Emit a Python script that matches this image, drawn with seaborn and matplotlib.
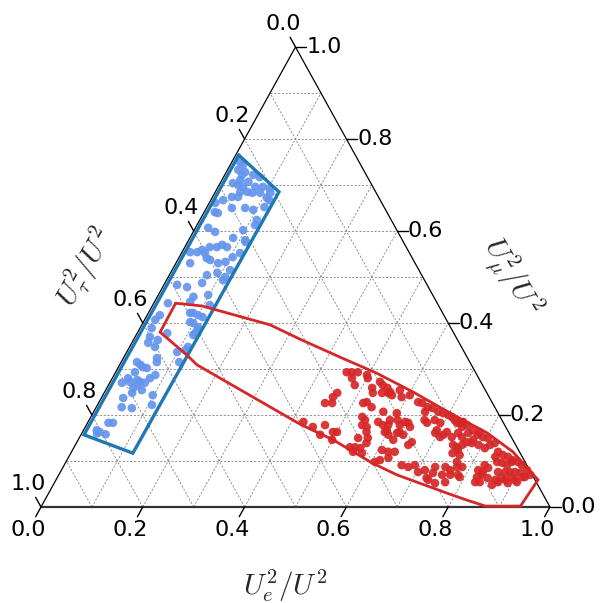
import matplotlib

matplotlib.use("Agg")
import matplotlib.pyplot as plt
import numpy as np
import pandas as pd
import seaborn as sns

# ternary components: e = U_e^2/U^2 (bottom), mu = U_mu^2/U^2 (right), tau = 1 - e - mu (left)
BLUE_E = [
    0.016, 0.025, 0.021, 0.037, 0.034, 0.056, 0.071, 0.036, 0.054, 0.025,
    0.037, 0.049, 0.073, 0.088, 0.103, 0.049, 0.063, 0.074, 0.089, 0.109,
    0.038, 0.050, 0.108, 0.115, 0.024, 0.050, 0.094, 0.021, 0.028, 0.113,
    0.112, 0.114, 0.025, 0.043, 0.085, 0.111, 0.037, 0.049, 0.063, 0.071,
    0.083, 0.030, 0.046, 0.012, 0.096, 0.114, 0.115, 0.105, 0.076,
    0.016, 0.055, 0.028, 0.064, 0.083, 0.096, 0.026, 0.048, 0.073, 0.092,
    0.074, 0.111, 0.112, 0.114, 0.071, 0.070, 0.098, 0.112, 0.028, 0.088,
    0.111, 0.025, 0.021, 0.092, 0.113, 0.023, 0.114, 0.059, 0.048, 0.050,
    0.029, 0.115, 0.066,
    0.032, 0.082, 0.099, 0.115, 0.100, 0.099, 0.114, 0.113, 0.112,
    0.031, 0.041, 0.048, 0.057, 0.038, 0.070, 0.074, 0.081, 0.031, 0.039,
    0.051, 0.059, 0.069, 0.024, 0.052, 0.058, 0.071, 0.055, 0.043, 0.050,
    0.071, 0.107, 0.041, 0.050, 0.026, 0.034, 0.030, 0.048, 0.098,
]
BLUE_MU = [
    0.750, 0.743, 0.733, 0.728, 0.722, 0.722, 0.717, 0.711, 0.707, 0.704,
    0.700, 0.696, 0.696, 0.696, 0.693, 0.685, 0.685, 0.683, 0.683, 0.683,
    0.674, 0.674, 0.672, 0.667, 0.667, 0.650, 0.646, 0.641, 0.639, 0.652,
    0.624, 0.613, 0.607, 0.598, 0.585, 0.580, 0.559, 0.565, 0.565, 0.570,
    0.565, 0.554, 0.552, 0.661, 0.602, 0.576, 0.552, 0.543, 0.650,
    0.554, 0.541, 0.530, 0.537, 0.530, 0.533, 0.483, 0.478, 0.487, 0.509,
    0.504, 0.493, 0.500, 0.515, 0.457, 0.446, 0.461, 0.439, 0.443, 0.422,
    0.413, 0.417, 0.407, 0.402, 0.391, 0.389, 0.378, 0.378, 0.363, 0.348,
    0.370, 0.348, 0.324,
    0.357, 0.422, 0.400, 0.385, 0.417, 0.337, 0.315, 0.341, 0.374,
    0.315, 0.309, 0.304, 0.302, 0.293, 0.315, 0.280, 0.287, 0.280, 0.272,
    0.276, 0.272, 0.270, 0.270, 0.259, 0.265, 0.254, 0.248, 0.237, 0.217,
    0.215, 0.222, 0.183, 0.183, 0.167, 0.163, 0.160, 0.158, 0.243,
]

RED_E = [
    0.454, 0.464, 0.476, 0.497, 0.471, 0.502, 0.530, 0.539, 0.551, 0.484,
    0.458, 0.454, 0.445, 0.459, 0.520, 0.526, 0.521, 0.528, 0.546, 0.558,
    0.541, 0.569, 0.423, 0.447, 0.469, 0.492, 0.500, 0.470, 0.499, 0.533,
    0.542, 0.542, 0.553, 0.558, 0.567, 0.570, 0.583, 0.594, 0.604, 0.548,
    0.542, 0.552, 0.563, 0.572, 0.553, 0.570, 0.608, 0.629, 0.615, 0.607,
    0.561, 0.568, 0.578, 0.589, 0.603, 0.627, 0.636, 0.651, 0.662, 0.677,
    0.688, 0.700, 0.709, 0.591, 0.593, 0.597, 0.606, 0.616, 0.623, 0.630,
    0.638, 0.619, 0.623, 0.633, 0.619, 0.596, 0.658, 0.654, 0.651, 0.667,
    0.659, 0.679, 0.693, 0.694, 0.694, 0.708, 0.712, 0.716, 0.731, 0.718,
    0.732, 0.737, 0.742, 0.752, 0.757, 0.760, 0.750, 0.766, 0.635, 0.622,
    0.663, 0.678, 0.689, 0.703, 0.714, 0.731, 0.733, 0.751, 0.764, 0.774,
    0.784, 0.753, 0.769, 0.726, 0.790, 0.731, 0.748, 0.767,
    0.726, 0.740, 0.748, 0.739, 0.751, 0.759, 0.765, 0.779, 0.780, 0.792,
    0.803, 0.766, 0.777, 0.776, 0.792, 0.808, 0.815, 0.822, 0.838, 0.851,
    0.863, 0.876, 0.838, 0.847, 0.858, 0.870, 0.876, 0.888, 0.899, 0.915,
    0.926, 0.904, 0.918, 0.893, 0.883, 0.874, 0.860, 0.836, 0.826, 0.830,
    0.831, 0.819, 0.824, 0.784, 0.768, 0.826, 0.835, 0.846, 0.863, 0.871,
    0.862, 0.874, 0.883, 0.892, 0.902, 0.908, 0.891, 0.914,
]
RED_MU = [
    0.293, 0.293, 0.293, 0.287, 0.280, 0.280, 0.272, 0.265, 0.259, 0.265,
    0.248, 0.239, 0.226, 0.226, 0.226, 0.228, 0.259, 0.248, 0.248, 0.248,
    0.217, 0.207, 0.185, 0.174, 0.178, 0.163, 0.163, 0.157, 0.146, 0.196,
    0.189, 0.178, 0.174, 0.163, 0.150, 0.185, 0.178, 0.163, 0.157, 0.150,
    0.130, 0.130, 0.128, 0.117, 0.120, 0.139, 0.124, 0.107, 0.102, 0.098,
    0.250, 0.243, 0.254, 0.239, 0.243, 0.228, 0.226, 0.217, 0.215, 0.207,
    0.204, 0.200, 0.196, 0.189, 0.178, 0.204, 0.189, 0.178, 0.185, 0.183,
    0.174, 0.161, 0.163, 0.157, 0.146, 0.167, 0.141, 0.135, 0.207, 0.183,
    0.189, 0.189, 0.183, 0.167, 0.161, 0.152, 0.157, 0.163, 0.152, 0.189,
    0.183, 0.185, 0.135, 0.130, 0.124, 0.135, 0.117, 0.113, 0.120, 0.120,
    0.091, 0.087, 0.091, 0.076, 0.080, 0.087, 0.074, 0.087, 0.080, 0.087,
    0.087, 0.070, 0.070, 0.063, 0.065, 0.059, 0.052, 0.054,
    0.183, 0.174, 0.178, 0.161, 0.152, 0.161, 0.167, 0.157, 0.163, 0.152,
    0.150, 0.141, 0.139, 0.146, 0.135, 0.128, 0.135, 0.139, 0.120, 0.113,
    0.109, 0.102, 0.109, 0.098, 0.096, 0.091, 0.098, 0.098, 0.091, 0.080,
    0.070, 0.074, 0.065, 0.076, 0.076, 0.076, 0.076, 0.085, 0.091, 0.076,
    0.070, 0.080, 0.065, 0.070, 0.098, 0.054, 0.054, 0.063, 0.059, 0.054,
    0.048, 0.063, 0.059, 0.065, 0.059, 0.054, 0.052, 0.065,
]

BLUE_REGION_E = [0.006, 0.125, 0.122, 0.006]
BLUE_REGION_MU = [0.765, 0.685, 0.117, 0.157]

RED_REGION_E = [0.043, 0.098, 0.252, 0.326, 0.424, 0.514, 0.606, 0.702, 0.796, 0.867, 0.947,
                0.941, 0.872, 0.829, 0.783, 0.664, 0.602, 0.501, 0.419, 0.152, 0.122, 0.044]
RED_REGION_MU = [0.443, 0.437, 0.396, 0.365, 0.326, 0.291, 0.250, 0.204, 0.161, 0.120, 0.059,
                 0.002, 0.002, 0.015, 0.030, 0.070, 0.096, 0.146, 0.180, 0.309, 0.330, 0.380]

TICK_VALUES = [0.0, 0.2, 0.4, 0.6, 0.8, 1.0]
TICK_LABELS = ["0.0", "0.2", "0.4", "0.6", "0.8", "1.0"]

TICK_LEN = 0.021
LABEL_OFF = 0.05


def project(e, mu):
    e = np.asarray(e, dtype=float)
    mu = np.asarray(mu, dtype=float)
    return e + mu / 2.0, mu


def closed(values):
    return list(values) + [values[0]]


sns.set_theme(style="white")
plt.rcParams["font.family"] = ["DejaVu Sans"]
plt.rcParams["mathtext.fontset"] = "cm"

fig = plt.figure(figsize=(6.01, 6.03), dpi=100)
ax = fig.add_axes([0, 0, 1, 1])
ax.set_xlim(-41 / 509, 560 / 509)
ax.set_ylim(-96 / 460, 507 / 460)
ax.axis("off")

# dashed grid every 0.1 in the three directions
grid_kw = dict(color="#808080", lw=0.6, ls=(0, (2.5, 2)), zorder=1)
for v in np.arange(1, 10) / 10:
    ax.plot(*project([0, 1 - v], [v, v]), **grid_kw)
    ax.plot(*project([v, v], [0, 1 - v]), **grid_kw)
    ax.plot(*project([1 - v, 0], [0, 1 - v]), **grid_kw)

# triangle boundary
ax.plot(*project([0, 1], [0, 0]), color="#333333", lw=1.6, zorder=2, solid_capstyle="butt")
ax.plot(*project([1, 0, 0], [0, 1, 0]), color="black", lw=0.9, zorder=2)

pts = pd.concat([
    pd.DataFrame({"e": BLUE_E, "mu": BLUE_MU, "group": "blue"}),
    pd.DataFrame({"e": RED_E, "mu": RED_MU, "group": "red"}),
], ignore_index=True)
pts["x"], pts["y"] = project(pts["e"], pts["mu"])

sns.scatterplot(
    data=pts, x="x", y="y", hue="group",
    palette={"blue": "#6495ED", "red": "#D62728"},
    s=38, linewidth=0, alpha=0.92, legend=False, ax=ax, zorder=3,
)

ax.plot(*project(closed(BLUE_REGION_E), closed(BLUE_REGION_MU)),
        color="#1F77B4", lw=2.4, zorder=4, solid_joinstyle="miter")
ax.plot(*project(closed(RED_REGION_E), closed(RED_REGION_MU)),
        color="#D62728", lw=2.0, zorder=4, solid_joinstyle="miter")

# ticks and tick labels
tick_kw = dict(color="black", lw=1.0, zorder=2)
txt_kw = dict(fontsize=16, color="black")
for v, lab in zip(TICK_VALUES, TICK_LABELS):
    # bottom axis (U_e^2)
    ax.plot(*project([v, v], [0, -TICK_LEN]), **tick_kw)
    bx, by = project(v, -LABEL_OFF)
    ax.text(bx, by, lab, ha="center", va="center", **txt_kw)
    # left axis (U_tau^2)
    ax.plot(*project([0, -TICK_LEN], [1 - v, 1 - v + TICK_LEN]), **tick_kw)
    lx, ly = project(-LABEL_OFF, 1 - v + LABEL_OFF)
    ax.text(lx, ly, lab, ha="center", va="center", **txt_kw)
    # right axis (U_mu^2)
    ax.plot(*project([1 - v, 1 - v + TICK_LEN], [v, v]), **tick_kw)
    rx, ry = project(1 - v + TICK_LEN, v)
    ax.text(rx, ry, lab, ha="left", va="center", **txt_kw)

ax.text(0.479, -0.17, r"$U_e^2/U^2$", ha="center", va="center", fontsize=21)
ax.text(0.086, 0.52, r"$U_\tau^2/U^2$", ha="center", va="center", fontsize=21,
        rotation=60, rotation_mode="anchor")
ax.text(0.923, 0.50, r"$U_\mu^2/U^2$", ha="center", va="center", fontsize=21,
        rotation=-60, rotation_mode="anchor")

fig.savefig("out.png", dpi=100)
plt.close(fig)
